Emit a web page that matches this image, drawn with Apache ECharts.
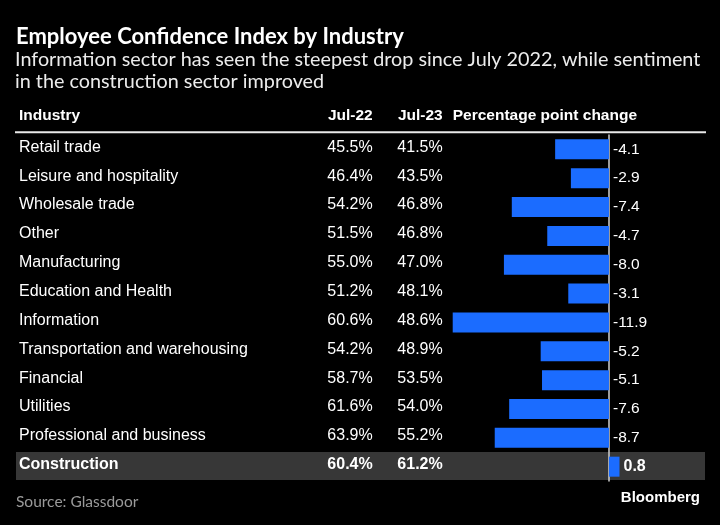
<!DOCTYPE html>
<html><head><meta charset="utf-8">
<script src="https://cdn.jsdelivr.net/npm/echarts@6/dist/echarts.min.js"></script>
<style>html,body{margin:0;padding:0;background:#000}#c{width:720px;height:525px}</style>
</head><body><div id="c"></div>
<script>
const industries = ['Retail trade','Leisure and hospitality','Wholesale trade','Other','Manufacturing','Education and Health','Information','Transportation and warehousing','Financial','Utilities','Professional and business','Construction'];
const jul22 = [45.5, 46.4, 54.2, 51.5, 55.0, 51.2, 60.6, 54.2, 58.7, 61.6, 63.9, 60.4];
const jul23 = [41.5, 43.5, 46.8, 46.8, 47.0, 48.1, 48.6, 48.9, 53.5, 54.0, 55.2, 61.2];
const changes = [-4.1, -2.9, -7.4, -4.7, -8.0, -3.1, -11.9, -5.2, -5.1, -7.6, -8.7, 0.8];
const headers = ['Industry', 'Jul-22', 'Jul-23', 'Percentage point change'];
const titleText = 'Employee Confidence Index by Industry';
const subtitleLines = ['Information sector has seen the steepest drop since July 2022, while sentiment', 'in the construction sector improved'];
const sourceText = 'Source: Glassdoor';
const highlight = 'Construction';

const FONT = "'Liberation Sans', Arial, Helvetica, sans-serif";
const HFONT = "Lato, 'Open Sans', sans-serif";
const hi = industries.indexOf(highlight);
const chart = echarts.init(document.getElementById('c'));

function colLabel(arr, fmt) {
  return function (v, i) {
    const s = fmt(arr[i]);
    return i === hi ? '{b|' + s + '}' : s;
  };
}
const richB = { b: { fontWeight: 'bold', fontSize: 16, color: '#fff', fontFamily: FONT } };
const GL = 451.4, TOP = 134.9, H = 346.2;

function sideAxis(margin, align, arr, fmt) {
  return {
    type: 'category', gridIndex: 0, inverse: true, position: 'left', data: industries,
    axisLine: { show: false, onZero: false }, axisTick: { show: false }, splitLine: { show: false },
    axisLabel: { interval: 0, margin: margin, align: align, color: '#fff', fontSize: 16, fontFamily: FONT,
      padding: [0, 0, 4, 0], formatter: colLabel(arr, fmt), rich: richB }
  };
}

function txt(x, y, text, o) {
  return { type: 'text', x: x, y: y, z: 10, style: Object.assign({ text: text, fill: '#fff', fontFamily: FONT,
    fontSize: 15, align: 'left', textAlign: 'left', verticalAlign: 'middle', textVerticalAlign: 'middle' }, o || {}) };
}
const al = a => ({ align: a, textAlign: a });

chart.setOption({
  backgroundColor: '#000',
  animation: false,
  grid: { left: GL, top: TOP, width: 249.5, height: H },
  xAxis: { type: 'value', min: -12, max: 7, show: false },
  yAxis: [
    { type: 'category', inverse: true, data: industries,
      axisLine: { show: true, onZero: true, lineStyle: { color: '#d0d0d0', width: 1.5 } },
      axisTick: { show: false }, axisLabel: { show: false }, splitLine: { show: false } },
    sideAxis(GL - 19, 'left', industries, v => v),
    sideAxis(GL - 372.7, 'right', jul22, v => v.toFixed(1) + '%'),
    sideAxis(GL - 442.7, 'right', jul23, v => v.toFixed(1) + '%')
  ],
  series: [{
    type: 'bar', yAxisIndex: 0, barWidth: 20, z: 3,
    itemStyle: { color: '#1b6cff' },
    data: changes.map((v, i) => i === hi ? { value: v, label: { fontWeight: 'bold', fontSize: 16 } } : v),
    label: { show: true, position: 'right', distance: 4, color: '#fff', fontSize: 15.5, fontFamily: FONT,
      formatter: p => p.value.toFixed(1) }
  }],
  graphic: [
    { type: 'rect', z: -10, shape: { x: 16, y: 452, width: 689, height: 28 }, style: { fill: '#373737' } },
    { type: 'rect', z: 1, shape: { x: 15, y: 131.3, width: 691, height: 2 }, style: { fill: '#e8e8e8' } },
    txt(16, 36.5, titleText, { fontSize: 22, fontWeight: 'bold', fontFamily: HFONT }),
    txt(15, 59.5, subtitleLines[0], { fontSize: 19.8, fill: '#ececec', fontFamily: HFONT }),
    txt(15, 81.5, subtitleLines[1], { fontSize: 19.8, fill: '#ececec', fontFamily: HFONT }),
    txt(19, 115.5, headers[0], { fontSize: 15.5, fontWeight: 'bold' }),
    txt(372.7, 115.5, headers[1], Object.assign({ fontSize: 15.5, fontWeight: 'bold' }, al('right'))),
    txt(442.7, 115.5, headers[2], Object.assign({ fontSize: 15.5, fontWeight: 'bold' }, al('right'))),
    txt(452.7, 115.5, headers[3], { fontSize: 15.5, fontWeight: 'bold' }),
    txt(16, 501.5, sourceText, { fontSize: 15.5, fill: '#9a9a9a', fontFamily: HFONT }),
    txt(700, 498, 'Bloomberg', Object.assign({ fontSize: 15, fontWeight: 'bold' }, al('right')))
  ]
});
</script></body></html>
